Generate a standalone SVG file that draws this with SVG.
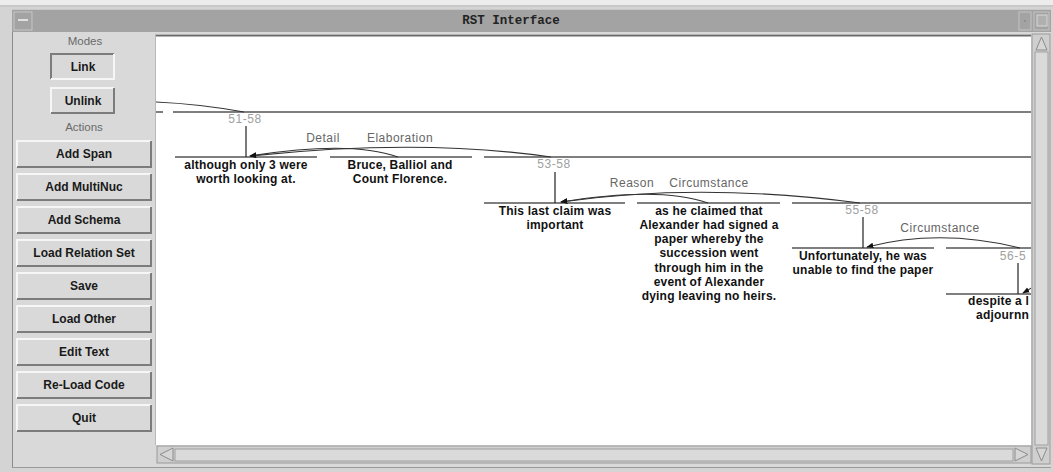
<svg xmlns="http://www.w3.org/2000/svg" width="1053" height="472" viewBox="0 0 1053 472">
<style>
.lbl{font-family:"Liberation Sans",Arial,sans-serif;font-size:11.5px;fill:#6a6a6a;text-anchor:middle}
.btxt{font-family:"Liberation Sans",Arial,sans-serif;font-size:12px;font-weight:bold;fill:#1a1a1a;text-anchor:middle}
.face{fill:#d9d9d9}
.hi{fill:none;stroke:#f6f6f6;stroke-width:2}
.sh{fill:none;stroke:#7c7c7c;stroke-width:2}
.node{font-family:"Liberation Sans",Arial,sans-serif;font-size:12px;font-weight:bold;fill:#111;text-anchor:middle;letter-spacing:0.2px}
.node-end{font-family:"Liberation Sans",Arial,sans-serif;font-size:12px;font-weight:bold;fill:#111;text-anchor:end;letter-spacing:0.2px}
.num{font-family:"Liberation Sans",Arial,sans-serif;font-size:12px;fill:#a0a0a0;text-anchor:middle;letter-spacing:0.6px}
.rel{font-family:"Liberation Sans",Arial,sans-serif;font-size:12px;fill:#666;text-anchor:middle;letter-spacing:0.5px}
.span{stroke:#555;stroke-width:1.5;fill:none}
.arc{stroke:#333;stroke-width:1.2;fill:none}
.vl{stroke:#222;stroke-width:1.2}
</style>
<defs>
<marker id="ah" viewBox="0 0 10 10" refX="9" refY="5" markerWidth="7" markerHeight="7" orient="auto" markerUnits="userSpaceOnUse">
<path d="M0,1 L10,5 L0,9 Z" fill="#111"/>
</marker>
<clipPath id="cv"><rect x="156" y="37" width="875" height="407"/></clipPath>
</defs>

<!-- window chrome -->
<rect x="0" y="0" width="1053" height="472" fill="#d4d4d4"/>
<rect x="0" y="0" width="1053" height="5" fill="#ececec"/>
<line x1="0" y1="6" x2="1053" y2="6" stroke="#bdbdbd"/>
<rect x="12" y="9" width="1039" height="23" fill="#a3a3a3"/>
<line x1="12" y1="9.5" x2="1051" y2="9.5" stroke="#c8c8c8"/>
<g id="menu-btn">
<rect x="14" y="12" width="18" height="18" fill="#a3a3a3" stroke="#c6c6c6"/>
<line x1="18" y1="20" x2="28" y2="20" stroke="#e0e0e0" stroke-width="2"/>
</g>
<g id="title">
<text x="511" y="23.5" font-family="'Liberation Mono','Courier New',monospace" font-size="12.5" font-weight="bold" fill="#222" text-anchor="middle">RST Interface</text>
</g>
<g id="win-btns">
<rect x="1019" y="12" width="12" height="18" fill="#a3a3a3" stroke="#c4c4c4"/>
<circle cx="1025" cy="21" r="1" fill="#888"/>
<rect x="1034" y="12" width="15" height="18" fill="#a3a3a3" stroke="#c4c4c4"/>
<rect x="1037" y="15" width="10" height="11" fill="#b0b0b0" stroke="#d8d8d8"/>
</g>
<rect x="12" y="32" width="1039" height="436" fill="#d9d9d9"/>
<line x1="12.5" y1="32" x2="12.5" y2="468" stroke="#8a8a8a"/>
<line x1="12" y1="467.5" x2="1051" y2="467.5" stroke="#9a9a9a"/>

<!-- left panel -->
<g id="panel">
<text class="lbl" x="85" y="45">Modes</text>
<g id="btn-link">
<rect class="face" x="50" y="53" width="65" height="27"/>
<path class="sh" d="M51,79 V54 H114"/>
<path class="hi" d="M51,79 H114 V54"/>
<text class="btxt" x="83" y="71">Link</text>
</g>
<g id="btn-unlink">
<rect class="face" x="50" y="87" width="65" height="27"/>
<path class="hi" d="M51,113 V88 H114"/>
<path class="sh" d="M51,113 H114 V88"/>
<text class="btxt" x="83" y="105">Unlink</text>
</g>
<text class="lbl" x="84" y="131">Actions</text>
<g id="btn-addspan"><rect class="face" x="16" y="140" width="136" height="28"/><path class="hi" d="M17,167 V141 H151"/><path class="sh" d="M17,167 H151 V141"/><text class="btxt" x="84" y="158">Add Span</text></g>
<g id="btn-addmultinuc"><rect class="face" x="16" y="173" width="136" height="28"/><path class="hi" d="M17,200 V174 H151"/><path class="sh" d="M17,200 H151 V174"/><text class="btxt" x="84" y="191">Add MultiNuc</text></g>
<g id="btn-addschema"><rect class="face" x="16" y="206" width="136" height="28"/><path class="hi" d="M17,233 V207 H151"/><path class="sh" d="M17,233 H151 V207"/><text class="btxt" x="84" y="224">Add Schema</text></g>
<g id="btn-loadrel"><rect class="face" x="16" y="239" width="136" height="28"/><path class="hi" d="M17,266 V240 H151"/><path class="sh" d="M17,266 H151 V240"/><text class="btxt" x="84" y="257">Load Relation Set</text></g>
<g id="btn-save"><rect class="face" x="16" y="272" width="136" height="28"/><path class="hi" d="M17,299 V273 H151"/><path class="sh" d="M17,299 H151 V273"/><text class="btxt" x="84" y="290">Save</text></g>
<g id="btn-loadother"><rect class="face" x="16" y="305" width="136" height="28"/><path class="hi" d="M17,332 V306 H151"/><path class="sh" d="M17,332 H151 V306"/><text class="btxt" x="84" y="323">Load Other</text></g>
<g id="btn-edittext"><rect class="face" x="16" y="338" width="136" height="28"/><path class="hi" d="M17,365 V339 H151"/><path class="sh" d="M17,365 H151 V339"/><text class="btxt" x="84" y="356">Edit Text</text></g>
<g id="btn-reload"><rect class="face" x="16" y="371" width="136" height="28"/><path class="hi" d="M17,398 V372 H151"/><path class="sh" d="M17,398 H151 V372"/><text class="btxt" x="84" y="389">Re-Load Code</text></g>
<g id="btn-quit"><rect class="face" x="16" y="404" width="136" height="28"/><path class="hi" d="M17,431 V405 H151"/><path class="sh" d="M17,431 H151 V405"/><text class="btxt" x="84" y="422">Quit</text></g>
</g>

<!-- canvas -->
<rect x="156" y="34" width="875" height="411" fill="#ffffff"/>
<line x1="156" y1="35.5" x2="1031" y2="35.5" stroke="#6a6a6a" stroke-width="2"/>
<line x1="155.5" y1="34" x2="155.5" y2="445" stroke="#b8b8b8"/>

<!-- scrollbars -->
<g id="vscroll">
<rect x="1032" y="34" width="18" height="430" fill="#cfcfcf" stroke="#9a9a9a"/>
<rect x="1035" y="52" width="13" height="393" fill="#dadada" stroke="#a0a0a0"/>
<path d="M1036,50 L1041.5,37 L1047,50 Z" fill="#d6d6d6" stroke="#8c8c8c"/>
<path d="M1036,448 L1041.5,461 L1047,448 Z" fill="#d6d6d6" stroke="#8c8c8c"/>
</g>
<g id="hscroll">
<rect x="157" y="446" width="874" height="17" fill="#cfcfcf" stroke="#9a9a9a"/>
<rect x="175" y="449" width="838" height="12" fill="#dadada" stroke="#a0a0a0"/>
<path d="M173,448 L160,454.5 L173,461 Z" fill="#d6d6d6" stroke="#8c8c8c"/>
<path d="M1015,448 L1028,454.5 L1015,461 Z" fill="#d6d6d6" stroke="#8c8c8c"/>
</g>

<g clip-path="url(#cv)">
<g id="connectors">
<path class="span" d="M156,112 H163 M173,112 H1031"/>
<path class="span" d="M175,157 H317 M330,157 H472 M484,157 H1031"/>
<path class="span" d="M484,203 H625 M637,203 H780 M792,203 H1031"/>
<path class="span" d="M792,248 H934 M946,248 H1031"/>
<path class="span" d="M946,294 H1031"/>
<line class="vl" x1="246" y1="126" x2="246" y2="157"/>
<line class="vl" x1="555" y1="172" x2="555" y2="203"/>
<line class="vl" x1="863" y1="217" x2="863" y2="248"/>
<line class="vl" x1="1018" y1="263" x2="1018" y2="294"/>
<path class="arc" d="M156,102 Q200,104 244,112"/>
<path class="arc" d="M398,157 Q350,140 250,156" marker-end="url(#ah)"/>
<path class="arc" d="M551,157 Q420,138 250,156" marker-end="url(#ah)"/>
<path class="arc" d="M708,203 Q660,186 561,202" marker-end="url(#ah)"/>
<path class="arc" d="M860,203 Q700,182 561,202" marker-end="url(#ah)"/>
<path class="arc" d="M1020,248 Q940,228 867,247" marker-end="url(#ah)"/>
<path class="arc" d="M1034,286 Q1030,289 1023,293" marker-end="url(#ah)"/>
</g>

<text class="rel" x="323" y="142">Detail</text>
<text class="rel" x="400" y="142">Elaboration</text>
<text class="rel" x="632" y="187">Reason</text>
<text class="rel" x="709" y="187">Circumstance</text>
<text class="rel" x="940" y="232">Circumstance</text>

<g id="n51-58"><text class="num" x="245" y="123">51-58</text></g>
<g id="n53-58"><text class="num" x="554" y="168">53-58</text></g>
<g id="n55-58"><text class="num" x="862" y="214">55-58</text></g>
<g id="n56-58"><text class="num" x="1013" y="260">56-5</text></g>

<g id="n-although">
<text class="node" x="246" y="169">although only 3 were</text>
<text class="node" x="246" y="182.5">worth looking at.</text>
</g>
<g id="n-bruce">
<text class="node" x="400" y="169">Bruce, Balliol and</text>
<text class="node" x="400" y="182.5">Count Florence.</text>
</g>
<g id="n-thislast">
<text class="node" x="555" y="214.5">This last claim was</text>
<text class="node" x="555" y="228.8">important</text>
</g>
<g id="n-asheclaimed">
<text class="node" x="709" y="214.5">as he claimed that</text>
<text class="node" x="709" y="228.8">Alexander had signed a</text>
<text class="node" x="709" y="243.1">paper whereby the</text>
<text class="node" x="709" y="257.4">succession went</text>
<text class="node" x="709" y="271.7">through him in the</text>
<text class="node" x="709" y="286">event of Alexander</text>
<text class="node" x="709" y="300.3">dying leaving no heirs.</text>
</g>
<g id="n-unfortunately">
<text class="node" x="863" y="260">Unfortunately, he was</text>
<text class="node" x="863" y="274.3">unable to find the paper</text>
</g>
<g id="n-despite">
<text class="node-end" x="1029" y="305">despite a l</text>
<text class="node-end" x="1029" y="319.3">adjournn</text>
</g>
</g>
</svg>
